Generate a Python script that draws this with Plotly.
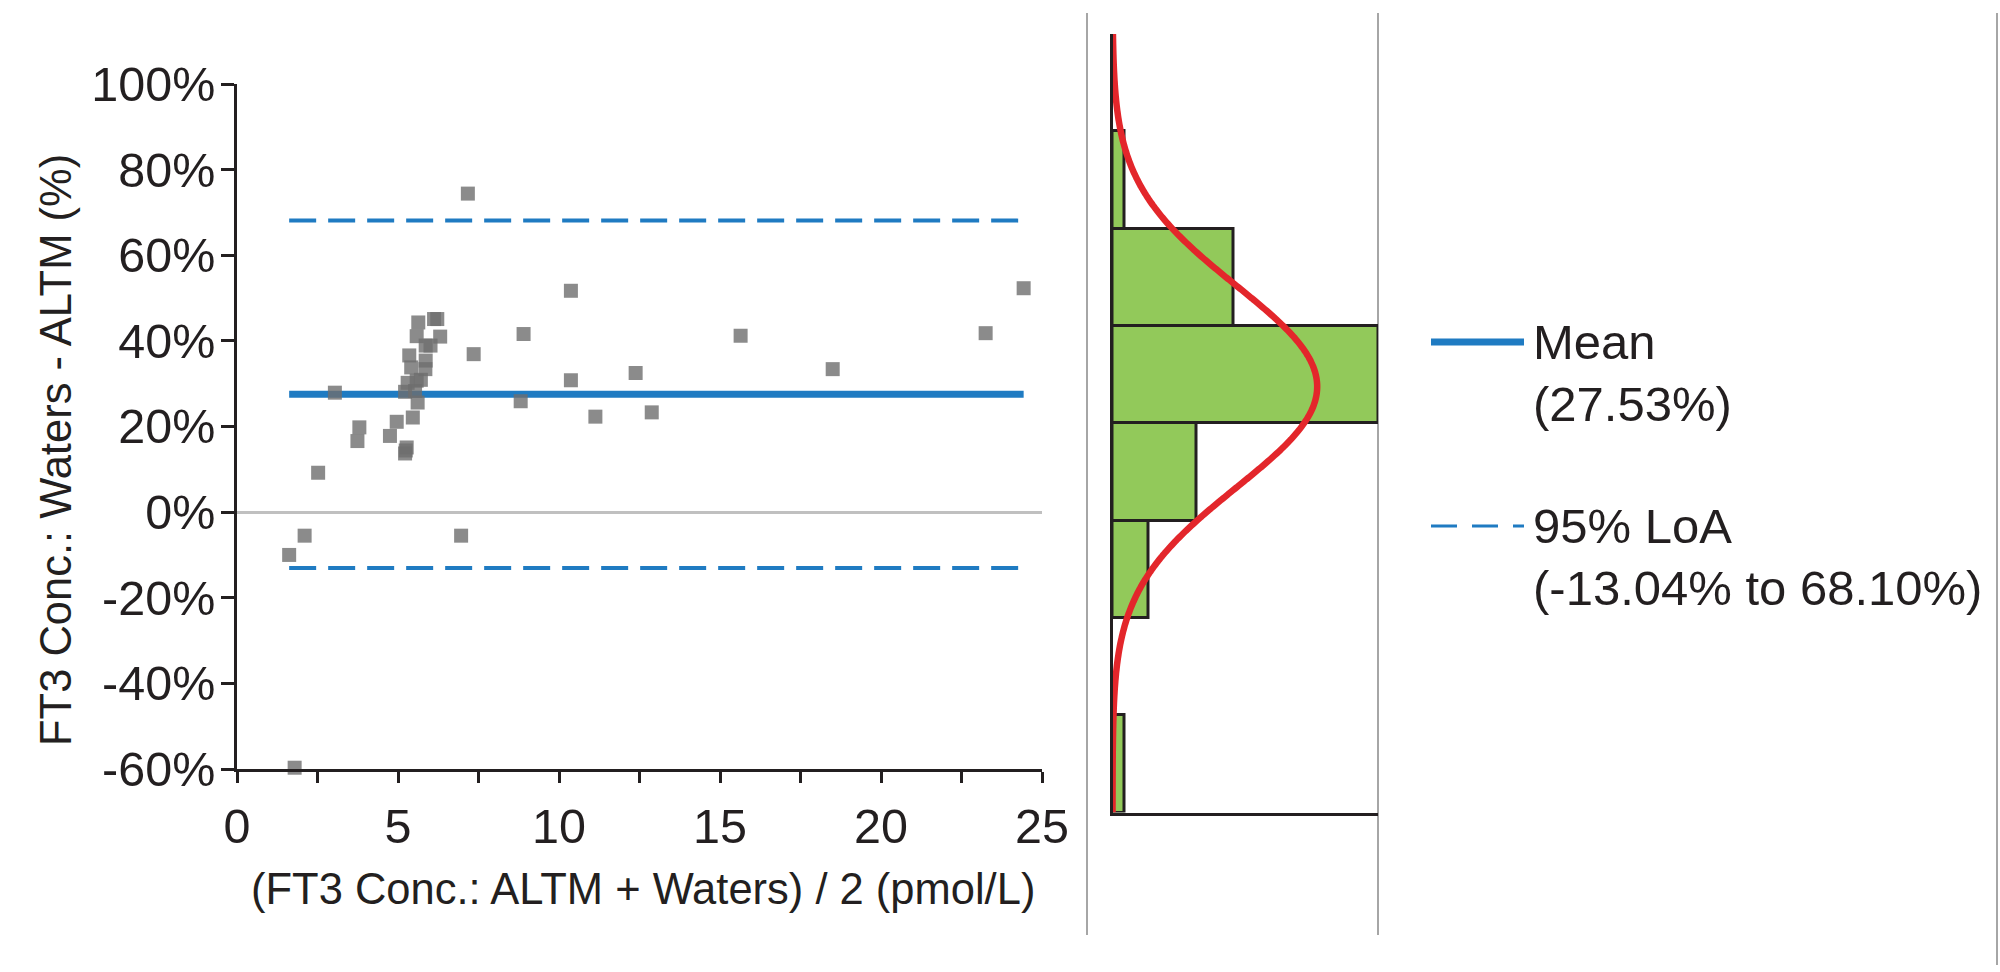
import numpy as np
import plotly.graph_objects as go

# ---------------- data ----------------
avg_conc = [7.17, 24.43, 10.37, 5.63, 6.12, 6.22, 5.58, 6.31, 8.90, 15.64,
            23.25, 5.86, 6.01, 7.35, 5.35, 5.86, 5.41, 5.85, 18.50, 12.38,
            10.37, 5.30, 5.58, 5.71, 3.04, 5.22, 5.53, 5.61, 8.81, 12.88,
            11.13, 5.46, 4.96, 3.80, 4.75, 3.74, 5.27, 5.24, 5.22, 2.52,
            2.10, 6.96, 1.62, 1.79]
diff_pct = [74.4, 52.3, 51.7, 44.3, 45.1, 45.1, 41.1, 41.0, 41.6, 41.2,
            41.8, 38.9, 38.9, 36.9, 36.6, 35.4, 33.8, 33.4, 33.4, 32.5,
            30.8, 30.2, 30.7, 30.9, 27.9, 28.1, 28.3, 25.6, 25.9, 23.3,
            22.3, 22.1, 21.1, 19.8, 17.8, 16.6, 15.1, 14.4, 13.7, 9.2,
            -5.5, -5.5, -10.0, -59.7]

MEAN = 27.53
LOA_LOW = -13.04
LOA_HIGH = 68.10

x_tickvals = [0, 2.5, 5, 7.5, 10, 12.5, 15, 17.5, 20, 22.5, 25]
x_ticktext = ["0", "", "5", "", "10", "", "15", "", "20", "", "25"]
y_tickvals = [-60, -40, -20, 0, 20, 40, 60, 80, 100]
y_ticktext = ["-60%", "-40%", "-20%", "0%", "20%", "40%", "60%", "80%", "100%"]

BIN_START, BIN_END, BIN_SIZE = -60, 80, 20

# ---------------- styling ----------------
W, H = 2000, 972
FONT = "Liberation Sans, Arial, sans-serif"
INK = "#231f20"
BLUE = "#1f7bc2"
GRAY_PT = "#6e6e6e"
GREEN = "#92c95a"
RED = "#e3262b"


def px(xp):
    return xp / W


def py(yp):
    return 1 - yp / H


fig = go.Figure()

xmin, xmax = min(avg_conc), max(avg_conc)

# limits of agreement (dashed)
for v in (LOA_HIGH, LOA_LOW):
    fig.add_trace(go.Scatter(x=[xmin, xmax], y=[v, v], mode="lines",
                             line=dict(color=BLUE, width=4, dash="27px,12px"),
                             showlegend=False, hoverinfo="skip"))
# mean line
fig.add_trace(go.Scatter(x=[xmin, xmax], y=[MEAN, MEAN], mode="lines",
                         line=dict(color=BLUE, width=7),
                         showlegend=False, hoverinfo="skip"))
# points
fig.add_trace(go.Scatter(x=avg_conc, y=diff_pct, mode="markers",
                         marker=dict(symbol="square", size=14, color=GRAY_PT,
                                     opacity=0.8, line=dict(width=0)),
                         cliponaxis=False, showlegend=False))

# histogram of differences
fig.add_trace(go.Histogram(y=diff_pct, xaxis="x2", yaxis="y2",
                           ybins=dict(start=BIN_START, end=BIN_END, size=BIN_SIZE),
                           marker=dict(color=GREEN, line=dict(color=INK, width=3)),
                           showlegend=False))

# normal fit from mean and limits of agreement
sd = (LOA_HIGH - MEAN) / 1.96
n = len(diff_pct)
cy = np.linspace(-60, 100, 400)
cx = n * BIN_SIZE * np.exp(-0.5 * ((cy - MEAN) / sd) ** 2) / (sd * np.sqrt(2 * np.pi))
fig.add_trace(go.Scatter(x=cx, y=cy, xaxis="x2", yaxis="y2", mode="lines",
                         line=dict(color=RED, width=6.5, shape="spline"),
                         cliponaxis=False, showlegend=False, hoverinfo="skip"))

axis_common = dict(showgrid=False, showline=True, linecolor=INK, linewidth=3,
                   ticks="outside", tickcolor=INK, tickwidth=3, automargin=False,
                   tickfont=dict(family=FONT, size=48.5, color=INK))

fig.update_layout(
    template="none",
    width=W, height=H,
    margin=dict(l=0, r=0, t=0, b=0, pad=0, autoexpand=False),
    showlegend=False,
    paper_bgcolor="white", plot_bgcolor="white",
    font=dict(family=FONT, color=INK),
    xaxis=dict(domain=[px(237), px(1042)], range=[0, 25],
               tickmode="array", tickvals=x_tickvals, ticktext=x_ticktext,
               ticklen=11, ticklabelstandoff=2, zeroline=False, anchor="y",
               **axis_common),
    yaxis=dict(domain=[py(769), py(84)], range=[-60, 100],
               tickmode="array", tickvals=y_tickvals, ticktext=y_ticktext,
               ticklen=13, ticklabelstandoff=-4, zeroline=True,
               zerolinecolor="#c0c0c0", zerolinewidth=3,
               anchor="x", **axis_common),
    xaxis2=dict(domain=[px(1112.5), px(1378)], range=[0, 22], anchor="y2",
                showgrid=False, zeroline=False, showline=True, linecolor=INK,
                linewidth=3, ticks="", showticklabels=False, automargin=False),
    yaxis2=dict(domain=[py(812.5), py(34)], range=[-60, 100], anchor="x2",
                showgrid=False, zeroline=False, showline=True, linecolor=INK,
                linewidth=3, ticks="", showticklabels=False, automargin=False),
    bargap=0,
)

shapes = []
# thin gray frame lines
for xp, y0, y1 in [(1087, 13, 935), (1378, 13, 935), (1997, 13, 965)]:
    shapes.append(dict(type="line", xref="paper", yref="paper",
                       x0=px(xp), x1=px(xp), y0=py(y1), y1=py(y0),
                       line=dict(color="#a6a6a6", width=2), layer="below"))
# legend keys
shapes.append(dict(type="line", xref="paper", yref="paper",
                   x0=px(1431), x1=px(1524), y0=py(342), y1=py(342),
                   line=dict(color=BLUE, width=7)))
shapes.append(dict(type="line", xref="paper", yref="paper",
                   x0=px(1431), x1=px(1524), y0=py(526), y1=py(526),
                   line=dict(color=BLUE, width=3, dash="26px,15px")))
fig.update_layout(shapes=shapes)

annotations = [
    dict(text="FT3 Conc.: Waters - ALTM (%)", x=px(56), y=py(450), textangle=-90,
         xanchor="center", yanchor="middle", font=dict(size=43.5)),
    dict(text="(FT3 Conc.: ALTM + Waters) / 2 (pmol/L)", x=px(643), y=py(889),
         xanchor="center", yanchor="middle", font=dict(size=43.5)),
    dict(text="Mean", x=px(1531), y=py(342), xanchor="left", yanchor="middle",
         font=dict(size=49)),
    dict(text=f"({MEAN:.2f}%)", x=px(1531), y=py(404), xanchor="left",
         yanchor="middle", font=dict(size=49)),
    dict(text="95% LoA", x=px(1531), y=py(526), xanchor="left", yanchor="middle",
         font=dict(size=49)),
    dict(text=f"({LOA_LOW:.2f}% to {LOA_HIGH:.2f}%)", x=px(1531), y=py(588),
         xanchor="left", yanchor="middle", font=dict(size=49)),
]
for a in annotations:
    a.update(xref="paper", yref="paper", showarrow=False)
    a["font"] = dict(family=FONT, color=INK, size=a["font"]["size"])
fig.update_layout(annotations=annotations)

fig.write_html("out.html")
